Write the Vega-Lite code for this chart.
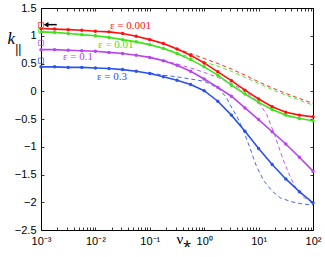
{
  "$schema": "https://vega.github.io/schema/vega-lite/v6.json",
  "width": 272,
  "height": 222,
  "autosize": {"type": "none"},
  "padding": {"left": 41, "top": 8, "right": 12, "bottom": 27},
  "background": "white",
  "config": {
    "view": {"stroke": "black", "strokeWidth": 1},
    "axis": {"grid": false, "domain": false, "tickColor": "black", "labelColor": "black", "labelFont": "Liberation Sans", "labelFontSize": 11, "tickSize": -3, "tickWidth": 0.8}
  },
  "datasets": {
    "curves": [
      {"eps": "0.001", "s": "solid", "nu": 0.001, "k": 1.13},
      {"eps": "0.001", "s": "solid", "nu": 0.001778, "k": 1.12},
      {"eps": "0.001", "s": "solid", "nu": 0.003162, "k": 1.11},
      {"eps": "0.001", "s": "solid", "nu": 0.005623, "k": 1.10},
      {"eps": "0.001", "s": "solid", "nu": 0.01, "k": 1.08},
      {"eps": "0.001", "s": "solid", "nu": 0.01778, "k": 1.07},
      {"eps": "0.001", "s": "solid", "nu": 0.03162, "k": 1.04},
      {"eps": "0.001", "s": "solid", "nu": 0.05623, "k": 0.99},
      {"eps": "0.001", "s": "solid", "nu": 0.1, "k": 0.93},
      {"eps": "0.001", "s": "solid", "nu": 0.1778, "k": 0.86},
      {"eps": "0.001", "s": "solid", "nu": 0.3162, "k": 0.76},
      {"eps": "0.001", "s": "solid", "nu": 0.5623, "k": 0.65},
      {"eps": "0.001", "s": "solid", "nu": 1, "k": 0.51},
      {"eps": "0.001", "s": "solid", "nu": 1.778, "k": 0.35},
      {"eps": "0.001", "s": "solid", "nu": 3.162, "k": 0.19},
      {"eps": "0.001", "s": "solid", "nu": 5.623, "k": 0.02},
      {"eps": "0.001", "s": "solid", "nu": 10, "k": -0.14},
      {"eps": "0.001", "s": "solid", "nu": 17.78, "k": -0.28},
      {"eps": "0.001", "s": "solid", "nu": 31.62, "k": -0.38},
      {"eps": "0.001", "s": "solid", "nu": 56.23, "k": -0.43},
      {"eps": "0.001", "s": "solid", "nu": 100, "k": -0.46},

      {"eps": "0.01", "s": "solid", "nu": 0.001, "k": 1.07},
      {"eps": "0.01", "s": "solid", "nu": 0.001778, "k": 1.06},
      {"eps": "0.01", "s": "solid", "nu": 0.003162, "k": 1.04},
      {"eps": "0.01", "s": "solid", "nu": 0.005623, "k": 1.02},
      {"eps": "0.01", "s": "solid", "nu": 0.01, "k": 1.00},
      {"eps": "0.01", "s": "solid", "nu": 0.01778, "k": 0.97},
      {"eps": "0.01", "s": "solid", "nu": 0.03162, "k": 0.93},
      {"eps": "0.01", "s": "solid", "nu": 0.05623, "k": 0.89},
      {"eps": "0.01", "s": "solid", "nu": 0.1, "k": 0.84},
      {"eps": "0.01", "s": "solid", "nu": 0.1778, "k": 0.77},
      {"eps": "0.01", "s": "solid", "nu": 0.3162, "k": 0.68},
      {"eps": "0.01", "s": "solid", "nu": 0.5623, "k": 0.57},
      {"eps": "0.01", "s": "solid", "nu": 1, "k": 0.44},
      {"eps": "0.01", "s": "solid", "nu": 1.778, "k": 0.29},
      {"eps": "0.01", "s": "solid", "nu": 3.162, "k": 0.11},
      {"eps": "0.01", "s": "solid", "nu": 5.623, "k": -0.05},
      {"eps": "0.01", "s": "solid", "nu": 10, "k": -0.20},
      {"eps": "0.01", "s": "solid", "nu": 17.78, "k": -0.33},
      {"eps": "0.01", "s": "solid", "nu": 31.62, "k": -0.43},
      {"eps": "0.01", "s": "solid", "nu": 56.23, "k": -0.49},
      {"eps": "0.01", "s": "solid", "nu": 100, "k": -0.53},

      {"eps": "0.1", "s": "solid", "nu": 0.001, "k": 0.75},
      {"eps": "0.1", "s": "solid", "nu": 0.001778, "k": 0.75},
      {"eps": "0.1", "s": "solid", "nu": 0.003162, "k": 0.74},
      {"eps": "0.1", "s": "solid", "nu": 0.005623, "k": 0.73},
      {"eps": "0.1", "s": "solid", "nu": 0.01, "k": 0.72},
      {"eps": "0.1", "s": "solid", "nu": 0.01778, "k": 0.70},
      {"eps": "0.1", "s": "solid", "nu": 0.03162, "k": 0.68},
      {"eps": "0.1", "s": "solid", "nu": 0.05623, "k": 0.65},
      {"eps": "0.1", "s": "solid", "nu": 0.1, "k": 0.61},
      {"eps": "0.1", "s": "solid", "nu": 0.1778, "k": 0.55},
      {"eps": "0.1", "s": "solid", "nu": 0.3162, "k": 0.47},
      {"eps": "0.1", "s": "solid", "nu": 0.5623, "k": 0.36},
      {"eps": "0.1", "s": "solid", "nu": 1, "k": 0.22},
      {"eps": "0.1", "s": "solid", "nu": 1.778, "k": 0.07},
      {"eps": "0.1", "s": "solid", "nu": 3.162, "k": -0.09},
      {"eps": "0.1", "s": "solid", "nu": 5.623, "k": -0.30},
      {"eps": "0.1", "s": "solid", "nu": 10, "k": -0.51},
      {"eps": "0.1", "s": "solid", "nu": 17.78, "k": -0.73},
      {"eps": "0.1", "s": "solid", "nu": 31.62, "k": -0.95},
      {"eps": "0.1", "s": "solid", "nu": 56.23, "k": -1.19},
      {"eps": "0.1", "s": "solid", "nu": 100, "k": -1.44},

      {"eps": "0.3", "s": "solid", "nu": 0.001, "k": 0.44},
      {"eps": "0.3", "s": "solid", "nu": 0.001778, "k": 0.44},
      {"eps": "0.3", "s": "solid", "nu": 0.003162, "k": 0.43},
      {"eps": "0.3", "s": "solid", "nu": 0.005623, "k": 0.43},
      {"eps": "0.3", "s": "solid", "nu": 0.01, "k": 0.42},
      {"eps": "0.3", "s": "solid", "nu": 0.01778, "k": 0.41},
      {"eps": "0.3", "s": "solid", "nu": 0.03162, "k": 0.39},
      {"eps": "0.3", "s": "solid", "nu": 0.05623, "k": 0.36},
      {"eps": "0.3", "s": "solid", "nu": 0.1, "k": 0.32},
      {"eps": "0.3", "s": "solid", "nu": 0.1778, "k": 0.26},
      {"eps": "0.3", "s": "solid", "nu": 0.3162, "k": 0.20},
      {"eps": "0.3", "s": "solid", "nu": 0.5623, "k": 0.12},
      {"eps": "0.3", "s": "solid", "nu": 1, "k": 0.01},
      {"eps": "0.3", "s": "solid", "nu": 1.778, "k": -0.18},
      {"eps": "0.3", "s": "solid", "nu": 3.162, "k": -0.43},
      {"eps": "0.3", "s": "solid", "nu": 5.623, "k": -0.72},
      {"eps": "0.3", "s": "solid", "nu": 10, "k": -1.03},
      {"eps": "0.3", "s": "solid", "nu": 17.78, "k": -1.32},
      {"eps": "0.3", "s": "solid", "nu": 31.62, "k": -1.58},
      {"eps": "0.3", "s": "solid", "nu": 56.23, "k": -1.81},
      {"eps": "0.3", "s": "solid", "nu": 100, "k": -2.01},

      {"eps": "0.001", "s": "dashed", "nu": 0.1, "k": 0.93},
      {"eps": "0.001", "s": "dashed", "nu": 0.1778, "k": 0.86},
      {"eps": "0.001", "s": "dashed", "nu": 0.3162, "k": 0.77},
      {"eps": "0.001", "s": "dashed", "nu": 0.5623, "k": 0.68},
      {"eps": "0.001", "s": "dashed", "nu": 1, "k": 0.59},
      {"eps": "0.001", "s": "dashed", "nu": 1.778, "k": 0.50},
      {"eps": "0.001", "s": "dashed", "nu": 3.162, "k": 0.40},
      {"eps": "0.001", "s": "dashed", "nu": 5.623, "k": 0.29},
      {"eps": "0.001", "s": "dashed", "nu": 10, "k": 0.17},
      {"eps": "0.001", "s": "dashed", "nu": 17.78, "k": 0.06},
      {"eps": "0.001", "s": "dashed", "nu": 31.62, "k": -0.04},
      {"eps": "0.001", "s": "dashed", "nu": 56.23, "k": -0.13},
      {"eps": "0.001", "s": "dashed", "nu": 100, "k": -0.22},

      {"eps": "0.01", "s": "dashed", "nu": 0.1, "k": 0.84},
      {"eps": "0.01", "s": "dashed", "nu": 0.1778, "k": 0.78},
      {"eps": "0.01", "s": "dashed", "nu": 0.3162, "k": 0.69},
      {"eps": "0.01", "s": "dashed", "nu": 0.5623, "k": 0.61},
      {"eps": "0.01", "s": "dashed", "nu": 1, "k": 0.53},
      {"eps": "0.01", "s": "dashed", "nu": 1.778, "k": 0.45},
      {"eps": "0.01", "s": "dashed", "nu": 3.162, "k": 0.36},
      {"eps": "0.01", "s": "dashed", "nu": 5.623, "k": 0.25},
      {"eps": "0.01", "s": "dashed", "nu": 10, "k": 0.14},
      {"eps": "0.01", "s": "dashed", "nu": 17.78, "k": 0.03},
      {"eps": "0.01", "s": "dashed", "nu": 31.62, "k": -0.07},
      {"eps": "0.01", "s": "dashed", "nu": 56.23, "k": -0.16},
      {"eps": "0.01", "s": "dashed", "nu": 100, "k": -0.25},

      {"eps": "0.1", "s": "dashed", "nu": 0.1, "k": 0.61},
      {"eps": "0.1", "s": "dashed", "nu": 0.1778, "k": 0.56},
      {"eps": "0.1", "s": "dashed", "nu": 0.3162, "k": 0.49},
      {"eps": "0.1", "s": "dashed", "nu": 0.5623, "k": 0.42},
      {"eps": "0.1", "s": "dashed", "nu": 1, "k": 0.34},
      {"eps": "0.1", "s": "dashed", "nu": 1.778, "k": 0.25},
      {"eps": "0.1", "s": "dashed", "nu": 3.162, "k": 0.14},
      {"eps": "0.1", "s": "dashed", "nu": 5.623, "k": 0.0},
      {"eps": "0.1", "s": "dashed", "nu": 10, "k": -0.2},
      {"eps": "0.1", "s": "dashed", "nu": 14.13, "k": -0.42},
      {"eps": "0.1", "s": "dashed", "nu": 19.95, "k": -0.8},
      {"eps": "0.1", "s": "dashed", "nu": 28.18, "k": -1.23},
      {"eps": "0.1", "s": "dashed", "nu": 38.02, "k": -1.54},
      {"eps": "0.1", "s": "dashed", "nu": 50.12, "k": -1.77},
      {"eps": "0.1", "s": "dashed", "nu": 70.79, "k": -1.93},
      {"eps": "0.1", "s": "dashed", "nu": 100, "k": -2.0},

      {"eps": "0.3", "s": "dashed", "nu": 0.1, "k": 0.33},
      {"eps": "0.3", "s": "dashed", "nu": 0.1778, "k": 0.29},
      {"eps": "0.3", "s": "dashed", "nu": 0.3162, "k": 0.26},
      {"eps": "0.3", "s": "dashed", "nu": 0.5623, "k": 0.22},
      {"eps": "0.3", "s": "dashed", "nu": 1, "k": 0.18},
      {"eps": "0.3", "s": "dashed", "nu": 1.778, "k": 0.06},
      {"eps": "0.3", "s": "dashed", "nu": 2.512, "k": -0.1},
      {"eps": "0.3", "s": "dashed", "nu": 3.388, "k": -0.34},
      {"eps": "0.3", "s": "dashed", "nu": 3.981, "k": -0.45},
      {"eps": "0.3", "s": "dashed", "nu": 5.248, "k": -0.7},
      {"eps": "0.3", "s": "dashed", "nu": 6.918, "k": -1.02},
      {"eps": "0.3", "s": "dashed", "nu": 9.12, "k": -1.35},
      {"eps": "0.3", "s": "dashed", "nu": 12.59, "k": -1.62},
      {"eps": "0.3", "s": "dashed", "nu": 17.78, "k": -1.8},
      {"eps": "0.3", "s": "dashed", "nu": 25.12, "k": -1.92},
      {"eps": "0.3", "s": "dashed", "nu": 39.81, "k": -1.99},
      {"eps": "0.3", "s": "dashed", "nu": 63.1, "k": -2.03},
      {"eps": "0.3", "s": "dashed", "nu": 100, "k": -2.05}
    ],
    "squares": [
      {"eps": "0.001", "nu": 0.001, "k": 1.19},
      {"eps": "0.01", "nu": 0.001, "k": 1.10},
      {"eps": "0.1", "nu": 0.001, "k": 0.87},
      {"eps": "0.3", "nu": 0.001, "k": 0.55}
    ],
    "labels": [
      {"eps": "0.001", "text": "ε = 0.001", "nu": 0.01854, "k": 1.18},
      {"eps": "0.01", "text": "ε = 0.01", "nu": 0.01117, "k": 0.83},
      {"eps": "0.1", "text": "ε = 0.1", "nu": 0.002535, "k": 0.62},
      {"eps": "0.3", "text": "ε = 0.3", "nu": 0.01069, "k": 0.25}
    ],
    "ylab": [
      {"text": "||", "nu": 0.000335, "k": 0.69}
    ],
    "arrow": [
      {"nu": 0.00124, "nu2": 0.00195, "k": 1.2}
    ]
  },
  "layer": [
    {
      "mark": {"type": "rule", "color": "black", "strokeWidth": 1},
      "encoding": {
        "x": {"datum": 0.001, "type": "quantitative", "scale": {"type": "log", "domain": [0.001, 100]},
          "axis": {"orient": "bottom", "values": [0.001,0.002,0.003,0.004,0.005,0.006,0.007,0.008,0.009,0.01,0.02,0.03,0.04,0.05,0.06,0.07,0.08,0.09,0.1,0.2,0.3,0.4,0.5,0.6,0.7,0.8,0.9,1,2,3,4,5,6,7,8,9,10,20,30,40,50,60,70,80,90,100],
            "labelExpr": "datum.value == 0.001 ? '10⁻³' : datum.value == 0.01 ? '10⁻²' : datum.value == 0.1 ? '10⁻¹' : datum.value == 1 ? '10⁰' : datum.value == 10 ? '10¹' : datum.value == 100 ? '10²' : ''",
            "labelPadding": 8, "labelFlush": false, "labelOverlap": false,
            "title": "ν⁎", "titleFont": "Liberation Serif", "titleFontSize": 15, "titleFontWeight": "normal", "titleX": 135, "titleY": 13, "titleAlign": "left", "titleBaseline": "alphabetic"}},
        "x2": {"datum": 100},
        "y": {"datum": 0, "type": "quantitative", "scale": {"domain": [-2.5, 1.5], "nice": false},
          "axis": {"orient": "left", "values": [-2.5,-2,-1.5,-1,-0.5,0,0.5,1,1.5], "format": "~g", "labelPadding": 8,
            "title": "k", "titleFont": "Liberation Serif", "titleFontStyle": "italic", "titleFontSize": 17, "titleFontWeight": "normal", "titleAngle": 0, "titleX": -34, "titleY": 35, "titleAlign": "left", "titleBaseline": "alphabetic"}}
      }
    },
    {
      "data": {"name": "curves"},
      "transform": [{"filter": "datum.s == 'dashed'"}],
      "mark": {"type": "line", "strokeWidth": 0.9, "strokeDash": [4, 3]},
      "encoding": {
        "x": {"field": "nu", "type": "quantitative", "scale": {"type": "log", "domain": [0.001, 100]}, "axis": null},
        "y": {"field": "k", "type": "quantitative", "scale": {"domain": [-2.5, 1.5], "nice": false}, "axis": null},
        "color": {"field": "eps", "type": "nominal", "scale": {"domain": ["0.001", "0.01", "0.1", "0.3"], "range": ["#ff1010", "#3ee31a", "#b944ee", "#2a52ee"]}, "legend": null},
        "order": {"field": "nu", "type": "quantitative"}
      }
    },
    {
      "data": {"name": "curves"},
      "transform": [{"filter": "datum.s == 'solid'"}],
      "mark": {"type": "line", "strokeWidth": 1.6, "point": {"filled": true, "size": 12}},
      "encoding": {
        "x": {"field": "nu", "type": "quantitative", "scale": {"type": "log", "domain": [0.001, 100]}, "axis": null},
        "y": {"field": "k", "type": "quantitative", "scale": {"domain": [-2.5, 1.5], "nice": false}, "axis": null},
        "color": {"field": "eps", "type": "nominal", "legend": null},
        "order": {"field": "nu", "type": "quantitative"}
      }
    },
    {
      "data": {"name": "squares"},
      "mark": {"type": "point", "shape": "square", "filled": false, "size": 28, "strokeWidth": 1},
      "encoding": {
        "x": {"field": "nu", "type": "quantitative", "scale": {"type": "log", "domain": [0.001, 100]}, "axis": null},
        "y": {"field": "k", "type": "quantitative", "scale": {"domain": [-2.5, 1.5], "nice": false}, "axis": null},
        "color": {"field": "eps", "type": "nominal", "legend": null}
      }
    },
    {
      "data": {"name": "arrow"},
      "mark": {"type": "rule", "color": "black", "strokeWidth": 1.5},
      "encoding": {
        "x": {"field": "nu", "type": "quantitative", "scale": {"type": "log", "domain": [0.001, 100]}, "axis": null},
        "x2": {"field": "nu2"},
        "y": {"field": "k", "type": "quantitative", "scale": {"domain": [-2.5, 1.5], "nice": false}, "axis": null}
      }
    },
    {
      "data": {"name": "arrow"},
      "mark": {"type": "point", "shape": "triangle-left", "filled": true, "color": "black", "size": 30, "opacity": 1},
      "encoding": {
        "x": {"field": "nu", "type": "quantitative", "scale": {"type": "log", "domain": [0.001, 100]}, "axis": null},
        "y": {"field": "k", "type": "quantitative", "scale": {"domain": [-2.5, 1.5], "nice": false}, "axis": null}
      }
    },
    {
      "data": {"name": "labels"},
      "mark": {"type": "text", "font": "Liberation Serif", "fontSize": 11, "align": "left", "baseline": "middle"},
      "encoding": {
        "x": {"field": "nu", "type": "quantitative", "scale": {"type": "log", "domain": [0.001, 100]}, "axis": null},
        "y": {"field": "k", "type": "quantitative", "scale": {"domain": [-2.5, 1.5], "nice": false}, "axis": null},
        "text": {"field": "text"},
        "color": {"field": "eps", "type": "nominal", "legend": null}
      }
    },
    {
      "data": {"name": "ylab"},
      "mark": {"type": "text", "font": "Liberation Sans", "fontSize": 12, "align": "left", "baseline": "alphabetic", "color": "black"},
      "encoding": {
        "x": {"field": "nu", "type": "quantitative", "scale": {"type": "log", "domain": [0.001, 100]}, "axis": null},
        "y": {"field": "k", "type": "quantitative", "scale": {"domain": [-2.5, 1.5], "nice": false}, "axis": null},
        "text": {"field": "text"}
      }
    },
    {
      "mark": {"type": "point", "opacity": 0},
      "encoding": {
        "x": {"datum": 1, "type": "quantitative", "scale": {"type": "log", "domain": [0.001, 100]},
          "axis": {"orient": "top", "values": [0.001,0.002,0.003,0.004,0.005,0.006,0.007,0.008,0.009,0.01,0.02,0.03,0.04,0.05,0.06,0.07,0.08,0.09,0.1,0.2,0.3,0.4,0.5,0.6,0.7,0.8,0.9,1,2,3,4,5,6,7,8,9,10,20,30,40,50,60,70,80,90,100], "labels": false, "title": null}},
        "y": {"datum": 0, "type": "quantitative", "scale": {"domain": [-2.5, 1.5], "nice": false},
          "axis": {"orient": "right", "values": [-2.5,-2,-1.5,-1,-0.5,0,0.5,1,1.5], "labels": false, "title": null}}
      }
    }
  ],
  "resolve": {"axis": {"x": "independent", "y": "independent"}}
}
